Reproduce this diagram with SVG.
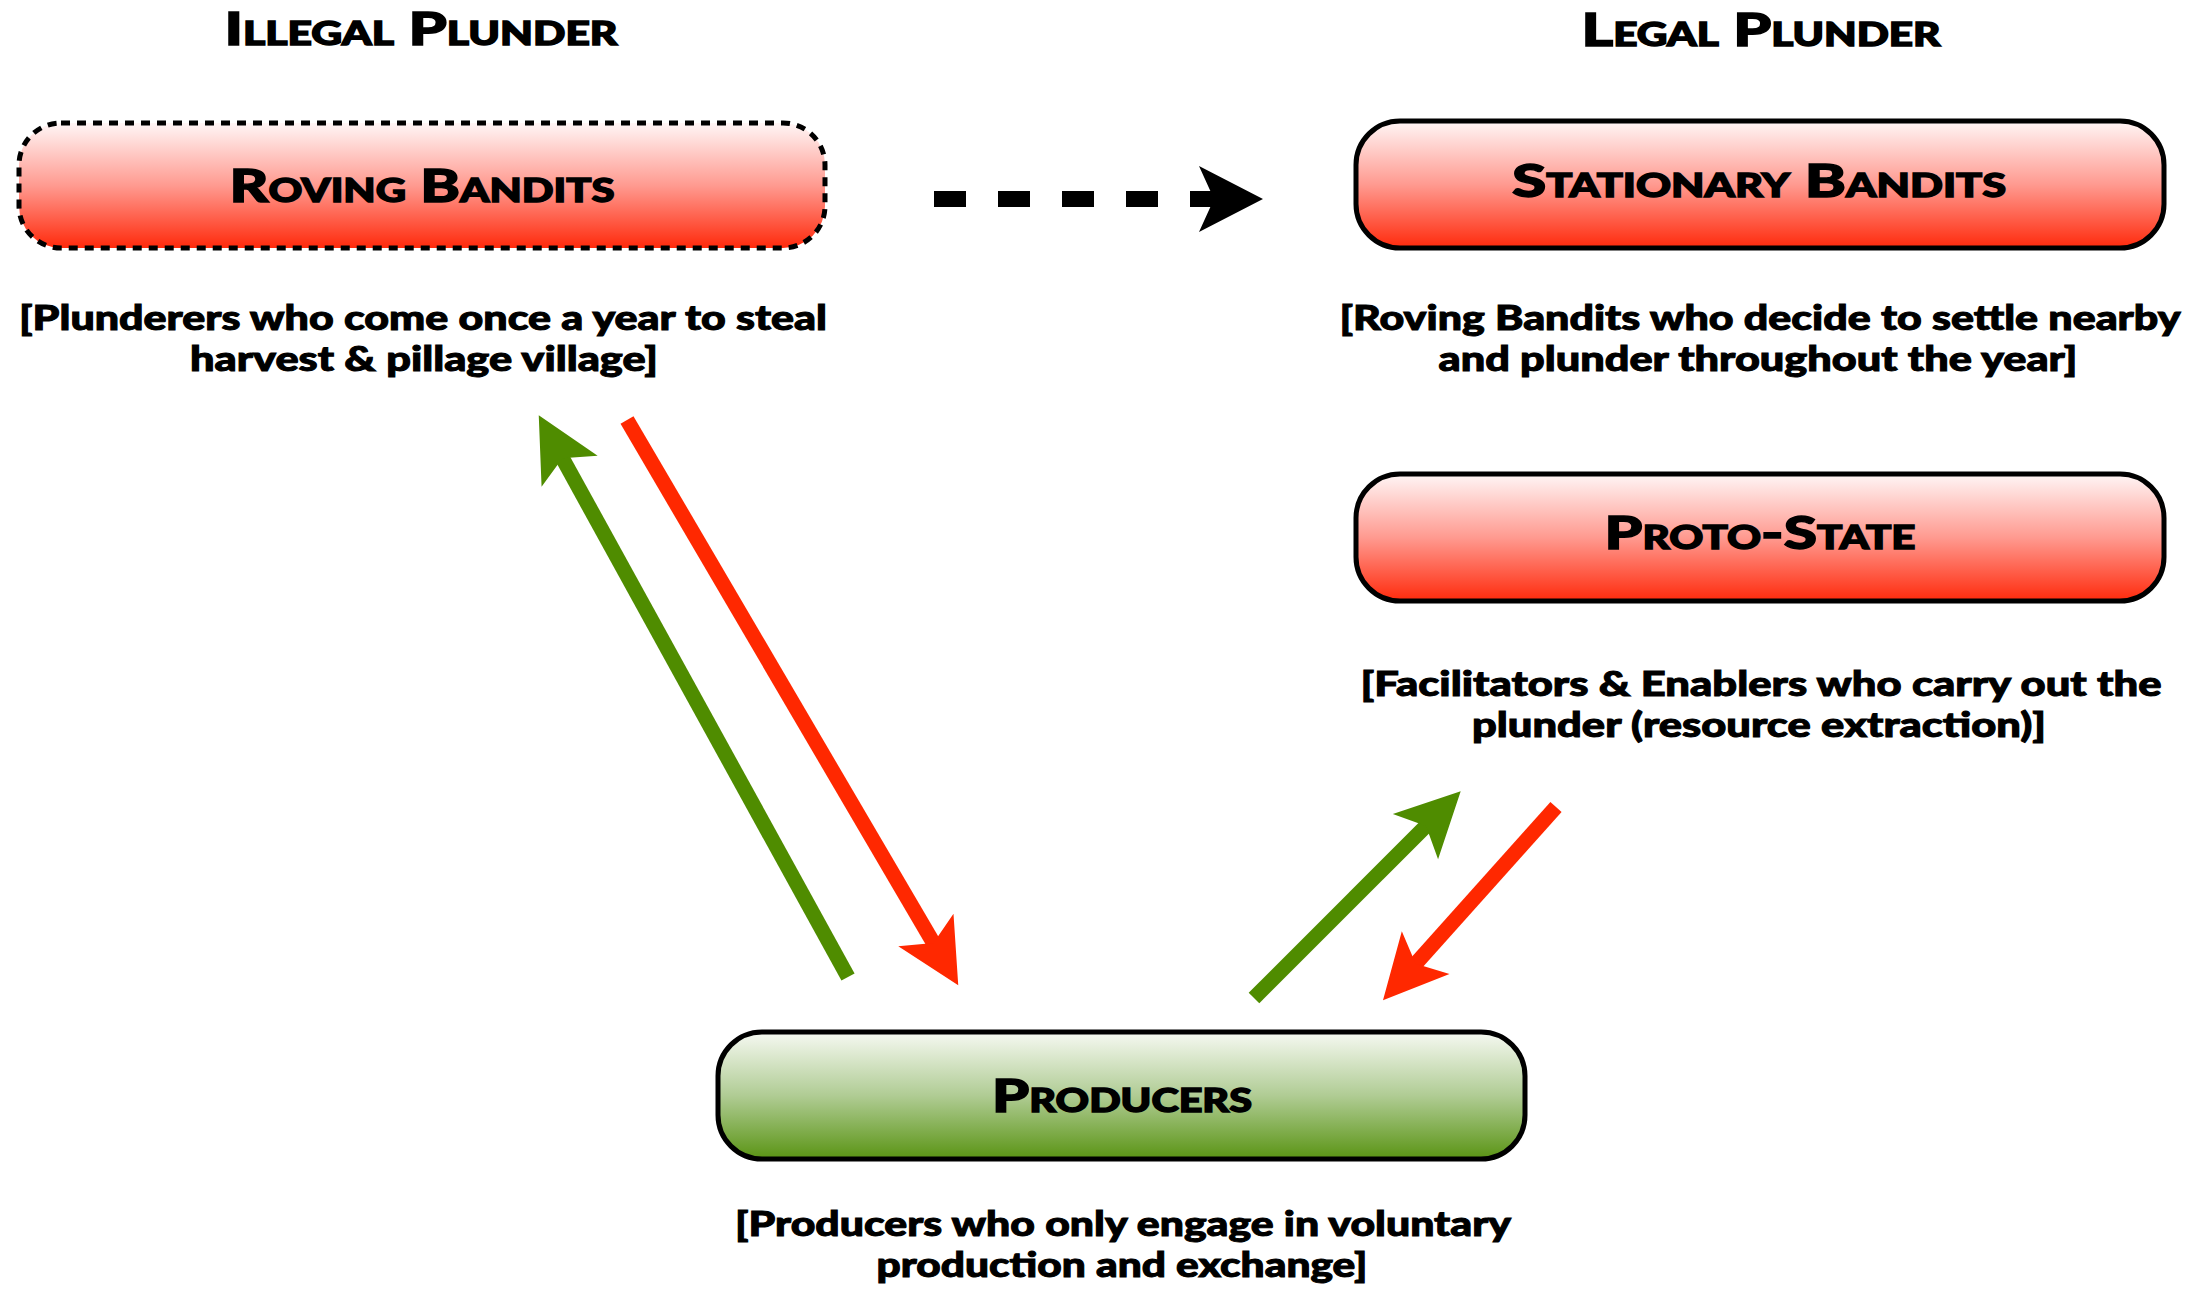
<svg xmlns="http://www.w3.org/2000/svg" width="2195" height="1290" viewBox="0 0 2195 1290">
<style>
.t{font-family:Lato,"Liberation Sans",sans-serif;font-weight:900;fill:#000;stroke:#000;text-anchor:middle}
.sc{font-variant:small-caps;font-size:46px;stroke-width:1.4}
.d{font-size:34px;stroke-width:1}
.box{stroke:#000;stroke-width:5}
.arr{fill:none;stroke-width:15;stroke-linecap:butt}
</style>
<defs>
<linearGradient id="gr" x1="0" y1="0" x2="0" y2="1">
<stop offset="0" stop-color="#FFF6F6"/><stop offset="0.5" stop-color="#FF9A90"/><stop offset="1" stop-color="#FF2A0C"/>
</linearGradient>
<linearGradient id="gg" x1="0" y1="0" x2="0" y2="1">
<stop offset="0" stop-color="#F6F9F2"/><stop offset="0.5" stop-color="#B0CC94"/><stop offset="1" stop-color="#5A9414"/>
</linearGradient>
<marker id="ah-g" markerUnits="userSpaceOnUse" markerWidth="80" markerHeight="80" viewBox="-70 -40 80 80" refX="-42" refY="0" orient="auto" overflow="visible">
<path d="M0,0 L-64,-32 L-49,0 L-64,32 Z" fill="#4F8C00"/>
</marker>
<marker id="ah-r" markerUnits="userSpaceOnUse" markerWidth="80" markerHeight="80" viewBox="-70 -40 80 80" refX="-42" refY="0" orient="auto" overflow="visible">
<path d="M0,0 L-64,-32 L-49,0 L-64,32 Z" fill="#FF2800"/>
</marker>
<marker id="ah-k" markerUnits="userSpaceOnUse" markerWidth="80" markerHeight="80" viewBox="-70 -40 80 80" refX="-42" refY="0" orient="auto" overflow="visible">
<path d="M0,0 L-64,-33 L-49,0 L-64,33 Z" fill="#000"/>
</marker>
</defs>
<rect width="2195" height="1290" fill="#fff"/>

<g id="headers">
<text class="t sc" x="421" y="45" textLength="393" lengthAdjust="spacingAndGlyphs">Illegal Plunder</text>
<text class="t sc" x="1761" y="46" textLength="359" lengthAdjust="spacingAndGlyphs">Legal Plunder</text>
</g>

<g id="roving-bandits">
<rect x="19" y="123" width="806" height="125" rx="42" fill="url(#gr)" stroke="#000" stroke-width="5" stroke-dasharray="9 7"/>
<text class="t sc" x="422" y="202" textLength="385" lengthAdjust="spacingAndGlyphs">Roving Bandits</text>
<text class="t d" x="423" y="330" textLength="808" lengthAdjust="spacingAndGlyphs">[Plunderers who come once a year to steal</text>
<text class="t d" x="424" y="371" textLength="468" lengthAdjust="spacingAndGlyphs">harvest &amp; pillage village]</text>
</g>

<g id="stationary-bandits">
<rect class="box" x="1356" y="121" width="808" height="127" rx="44" fill="url(#gr)"/>
<text class="t sc" x="1759" y="197" textLength="494" lengthAdjust="spacingAndGlyphs">Stationary Bandits</text>
<text class="t d" x="1760" y="330" textLength="841" lengthAdjust="spacingAndGlyphs">[Roving Bandits who decide to settle nearby</text>
<text class="t d" x="1758" y="371" textLength="639" lengthAdjust="spacingAndGlyphs">and plunder throughout the year]</text>
</g>

<g id="proto-state">
<rect class="box" x="1356" y="474" width="808" height="127" rx="44" fill="url(#gr)"/>
<text class="t sc" x="1760" y="549" textLength="311" lengthAdjust="spacingAndGlyphs">Proto-State</text>
<text class="t d" x="1761" y="696" textLength="801" lengthAdjust="spacingAndGlyphs">[Facilitators &amp; Enablers who carry out the</text>
<text class="t d" x="1759" y="737" textLength="574" lengthAdjust="spacingAndGlyphs">plunder (resource extraction)]</text>
</g>

<g id="producers">
<rect class="box" x="718" y="1032" width="807" height="127" rx="44" fill="url(#gg)"/>
<text class="t sc" x="1122" y="1112" textLength="260" lengthAdjust="spacingAndGlyphs">Producers</text>
<text class="t d" x="1123" y="1236" textLength="776" lengthAdjust="spacingAndGlyphs">[Producers who only engage in voluntary</text>
<text class="t d" x="1122" y="1277" textLength="491" lengthAdjust="spacingAndGlyphs">production and exchange]</text>
</g>

<g id="connectors">
<line x1="934" y1="199" x2="1221" y2="199" stroke="#000" stroke-width="16" stroke-dasharray="32 32" marker-end="url(#ah-k)"/>
<line class="arr" x1="848" y1="977" x2="559" y2="452" stroke="#4F8C00" marker-end="url(#ah-g)"/>
<line class="arr" x1="627" y1="420" x2="937" y2="949" stroke="#FF2800" marker-end="url(#ah-r)"/>
<line class="arr" x1="1254" y1="998" x2="1431" y2="821" stroke="#4F8C00" marker-end="url(#ah-g)"/>
<line class="arr" x1="1556" y1="807" x2="1411" y2="969" stroke="#FF2800" marker-end="url(#ah-r)"/>
</g>
</svg>
